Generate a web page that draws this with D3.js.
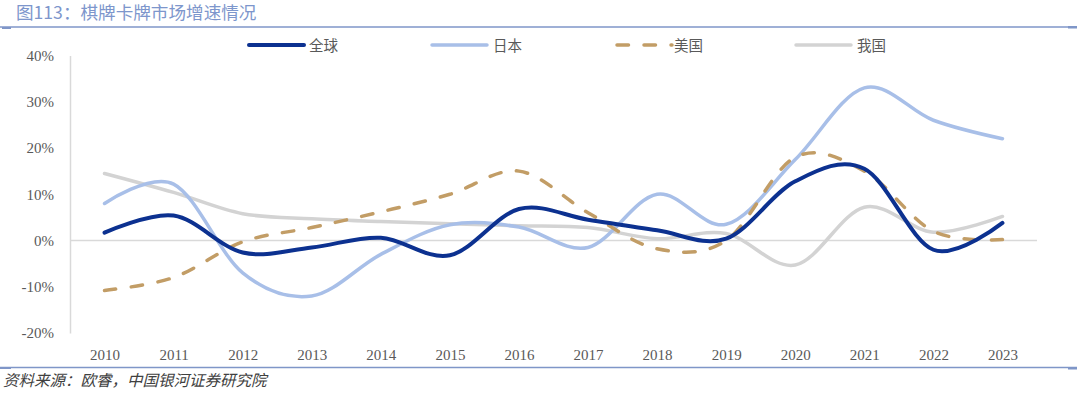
<!DOCTYPE html>
<html>
<head>
<meta charset="utf-8">
<script src="https://cdn.jsdelivr.net/npm/d3@7"></script>
<style>
  html, body { margin: 0; padding: 0; background: #fff; }
  svg { display: block; }
</style>
</head>
<body>
<svg id="chart" width="1080" height="397"></svg>
<script>
/* ── Data ────────────────────────────────────────────────────── */
const years = ["2010","2011","2012","2013","2014","2015","2016","2017","2018","2019","2020","2021","2022","2023"];
const globalGrowth = [1.7, 5.4, -2.6, -1.5, 0.6, -3.2, 6.8, 4.5, 2.2, 0.4, 12.8, 15.5, -2.0, 3.8];
const japanGrowth  = [8.0, 12.2, -7.0, -12.0, -3.0, 3.4, 2.9, -1.5, 10.0, 3.5, 17.5, 33.0, 26.0, 22.0];
const usGrowth     = [-10.8, -8.0, -0.3, 2.8, 6.2, 10.0, 15.0, 6.0, -1.8, 0.0, 18.0, 15.0, 2.0, 0.2];
const chinaGrowth  = [14.5, 10.4, 5.8, 4.7, 4.1, 3.6, 3.2, 2.8, 0.4, 1.5, -5.3, 7.2, 1.8, 5.2];
const yTicks = [-20, -10, 0, 10, 20, 30, 40];

const series = [
  { name: "全球", values: globalGrowth, color: "#0c3190", width: 4,   dash: null },
  { name: "日本", values: japanGrowth,  color: "#a8bfe8", width: 3.5, dash: null },
  { name: "美国", values: usGrowth,     color: "#c29d66", width: 3.5, dash: "11.5,15.5" },
  { name: "我国", values: chinaGrowth,  color: "#d3d3d3", width: 3.5, dash: null },
];

/* ── Layout ──────────────────────────────────────────────────── */
const svg = d3.select("#chart");
const plot = { left: 70, right: 1037, top: 55.5, bottom: 333 };

const x = d3.scalePoint().domain(years).range([plot.left, plot.right]).padding(0.5);
const y = d3.scaleLinear().domain([-20, 40]).range([plot.bottom, plot.top]);

/* ── Title + rules ───────────────────────────────────────────── */
svg.append("text")
  .attr("x", 16).attr("y", 19)
  .attr("font-family", "'Noto Sans CJK SC', sans-serif")
  .attr("font-size", 17.6)
  .attr("fill", "#7d96cc")
  .text("图113：棋牌卡牌市场增速情况");

svg.append("line")
  .attr("x1", 0).attr("x2", 1077).attr("y1", 27).attr("y2", 27)
  .attr("stroke", "#7f96c8").attr("stroke-width", 1.5);
svg.append("rect").attr("x", 2).attr("y", 27).attr("width", 9).attr("height", 2).attr("fill", "#7f96c8");
svg.append("rect").attr("x", 1068).attr("y", 26).attr("width", 9).attr("height", 2.5).attr("fill", "#7f96c8");

svg.append("line")
  .attr("x1", 0).attr("x2", 1077).attr("y1", 367.5).attr("y2", 367.5)
  .attr("stroke", "#7f96c8").attr("stroke-width", 1.5);
svg.append("rect").attr("x", 0).attr("y", 367).attr("width", 11).attr("height", 2).attr("fill", "#7f96c8");
svg.append("rect").attr("x", 1068).attr("y", 367).attr("width", 9).attr("height", 2.5).attr("fill", "#7f96c8");

svg.append("text")
  .attr("x", 3).attr("y", 386)
  .attr("font-family", "'Noto Sans CJK SC', sans-serif")
  .attr("font-size", 15.5)
  .attr("font-style", "italic")
  .attr("fill", "#404040")
  .text("资料来源：欧睿，中国银河证券研究院");

/* ── Axes ────────────────────────────────────────────────────── */
const yAxis = svg.append("g")
  .attr("transform", `translate(${plot.left},0)`)
  .call(d3.axisLeft(y).tickValues(yTicks).tickSize(0).tickPadding(16)
    .tickFormat(d => d + "%"));
yAxis.select(".domain").attr("stroke", "#d9d9d9").attr("stroke-width", 1.5);
yAxis.selectAll("text")
  .attr("font-family", "'Liberation Serif', serif")
  .attr("font-size", 15).attr("fill", "#595959");

/* zero line */
svg.append("line")
  .attr("x1", plot.left).attr("x2", plot.right)
  .attr("y1", y(0)).attr("y2", y(0))
  .attr("stroke", "#d9d9d9").attr("stroke-width", 1.5);

const xAxis = svg.append("g")
  .attr("transform", `translate(0,${plot.bottom})`)
  .call(d3.axisBottom(x).tickSize(0).tickPadding(16));
xAxis.select(".domain").remove();
xAxis.selectAll("text")
  .attr("font-family", "'Liberation Serif', serif")
  .attr("font-size", 15).attr("fill", "#595959");

/* ── Lines (Excel-style smoothing) ───────────────────────────── */
const line = d3.line()
  .x((d, i) => x(years[i]))
  .y(d => y(d))
  .curve(d3.curveCatmullRom.alpha(0));

/* draw order: China behind, then Japan, US, Global on top */
const drawOrder = [series[3], series[1], series[2], series[0]];
svg.append("g").selectAll("path")
  .data(drawOrder)
  .enter().append("path")
    .attr("d", d => line(d.values))
    .attr("fill", "none")
    .attr("stroke", d => d.color)
    .attr("stroke-width", d => d.width)
    .attr("stroke-dasharray", d => d.dash)
    .attr("stroke-linecap", "round")
    .attr("stroke-linejoin", "round");

/* ── Legend ──────────────────────────────────────────────────── */
const legendX = [249, 432, 617, 796];
const legendTextX = [309, 493, 674, 857];
const legend = svg.append("g").selectAll("g")
  .data(series)
  .enter().append("g");

legend.append("line")
  .attr("x1", (d, i) => legendX[i])
  .attr("x2", (d, i) => legendX[i] + 55)
  .attr("y1", 45).attr("y2", 45)
  .attr("stroke", d => d.color)
  .attr("stroke-width", d => d.width)
  .attr("stroke-dasharray", d => d.dash)
  .attr("stroke-linecap", "round");

legend.append("text")
  .attr("x", (d, i) => legendTextX[i])
  .attr("y", 50.5)
  .attr("font-family", "'Noto Sans CJK SC', sans-serif")
  .attr("font-size", 14.5)
  .attr("fill", "#595959")
  .text(d => d.name);
</script>
</body>
</html>
